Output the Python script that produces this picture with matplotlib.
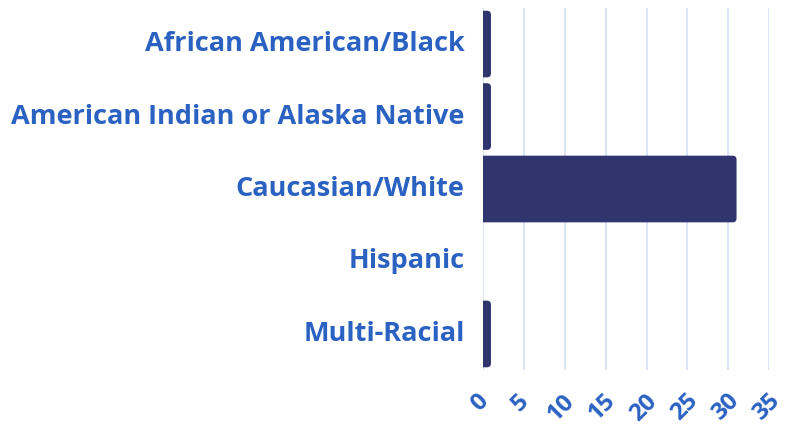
import matplotlib
matplotlib.use("Agg")
import matplotlib.pyplot as plt
import matplotlib.transforms as mtransforms
from matplotlib.patches import FancyBboxPatch

categories = ["African American/Black", "American Indian or Alaska Native",
              "Caucasian/White", "Hispanic", "Multi-Racial"]
values = [1, 1, 31, 0, 1]
xticks = [0, 5, 10, 15, 20, 25, 30, 35]

BAR = "#31356e"
TXT = "#2b62c2"
GRID = "#d3dff3"

plt.rcParams['font.family'] = ['Open Sans', 'DejaVu Sans']

fig = plt.figure(figsize=(7.85, 4.34), dpi=100)
ax = fig.add_axes([0.615, 0.147, 0.365, 0.835])

n = len(categories)
ax.set_xlim(0, 35)
ax.set_ylim(n - 0.5, -0.5)

height = 0.92
rpx = 4.0
bbox = ax.get_window_extent()
px_x = bbox.width / 35
px_y = bbox.height / n
rx = rpx / px_x
ry = rpx / px_y
for i, v in enumerate(values):
    if v <= 0:
        continue
    p = FancyBboxPatch((-rx, i - height / 2), v + rx, height,
                       boxstyle=f"round,pad=0,rounding_size={rx}",
                       mutation_aspect=ry / rx,
                       facecolor=BAR, edgecolor="none", zorder=3, clip_on=True)
    ax.add_patch(p)

ax.set_yticks(range(n))
ax.set_yticklabels(categories, fontsize=19.5, fontweight='bold', color=TXT,
                   va='center')
ax.set_xticks(xticks)
ax.tick_params(axis='both', length=0)
ax.tick_params(axis='y', pad=13)
ax.grid(axis='x', color=GRID, linewidth=1.2, zorder=0)
ax.set_axisbelow(True)
for s in ax.spines.values():
    s.set_visible(False)

# x tick labels drawn as text, slightly left of each tick
trans = mtransforms.blended_transform_factory(ax.transData, ax.transAxes)
offset = mtransforms.ScaledTranslation(-3 / 100, -19 / 100, fig.dpi_scale_trans)
ax.set_xticklabels([])
for t in xticks:
    ax.text(t, 0, str(t), transform=trans + offset, fontsize=17.5,
            fontweight='bold', color=TXT, rotation=45, ha='center', va='top',
            clip_on=False)

fig.savefig("out.png", dpi=100)
